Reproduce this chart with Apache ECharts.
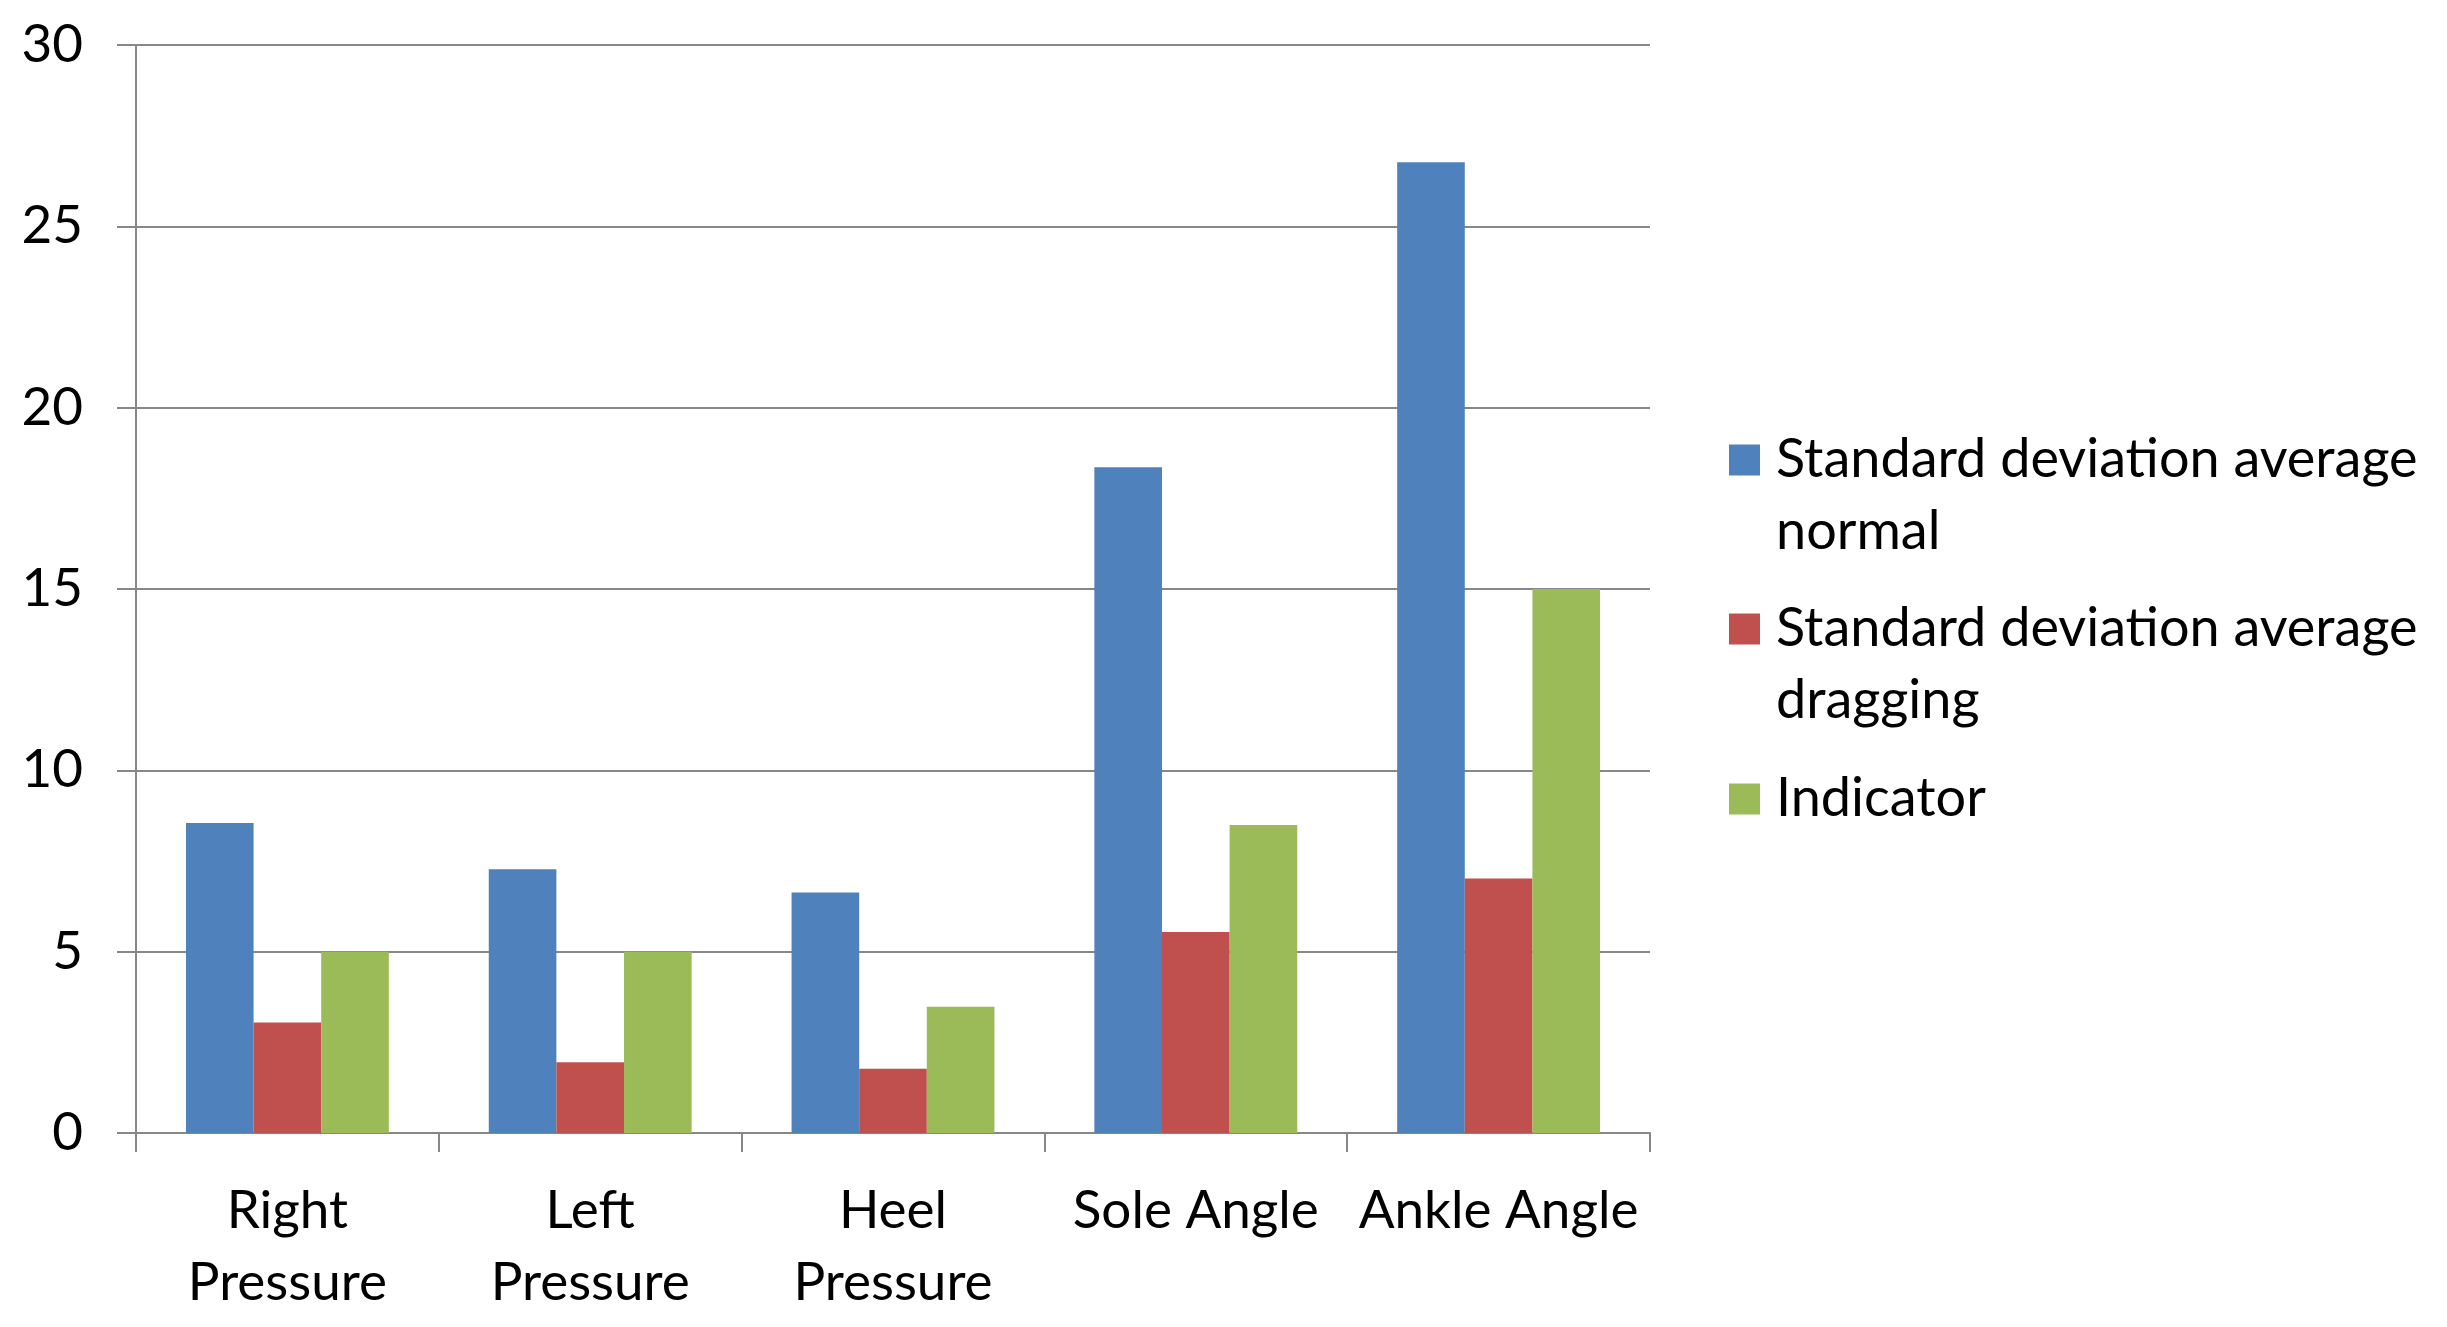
<!DOCTYPE html>
<html>
<head>
<meta charset="utf-8">
<script src="https://cdn.jsdelivr.net/npm/echarts@6/dist/echarts.min.js"></script>
<style>html,body{margin:0;padding:0;background:#fff}#c{width:2447px;height:1327px}</style>
</head>
<body>
<div id="c"></div>
<script>
const categories = ["Right Pressure", "Left Pressure", "Heel Pressure", "Sole Angle", "Ankle Angle"];
const seriesNames = ["Standard deviation average normal", "Standard deviation average dragging", "Indicator"];
const normalValues = [8.55, 7.27, 6.63, 18.36, 26.77];
const draggingValues = [3.05, 1.95, 1.77, 5.54, 7.02];
const indicatorValues = [5.0, 5.0, 3.48, 8.49, 15.0];
const yTicks = [0, 5, 10, 15, 20, 25, 30];

const colors = ['#4F81BD', '#C0504D', '#9BBB59'];
const FONT = 'Lato';
const FS = 53;
const LFS = 54;
const LH = 72;
const gray = '#878787';

const chart = echarts.init(document.getElementById('c'));
chart.setOption({
  animation: false,
  color: colors,
  textStyle: { fontFamily: FONT, color: '#000' },
  grid: { left: 136, top: 45, width: 1514, height: 1088, containLabel: false },
  legend: {
    orient: 'vertical',
    left: 1729,
    top: 352,
    padding: 0,
    itemGap: -47,
    itemWidth: 31,
    itemHeight: 31,
    icon: 'rect',
    selectedMode: false,
    formatter: name => name.indexOf(' average ') >= 0 ? '\n' + name.replace(' average ', ' average\n') : name,
    textStyle: { fontFamily: FONT, fontSize: LFS, lineHeight: LH, color: '#000' },
    data: [
      { name: seriesNames[0], textStyle: { padding: [0, 0, 0, 11] } },
      { name: seriesNames[1], textStyle: { padding: [0, 0, 0, 11] } },
      { name: seriesNames[2], textStyle: { padding: [73, 0, 73, 11] } }
    ]
  },
  xAxis: {
    type: 'category',
    data: categories,
    boundaryGap: true,
    axisLine: { show: true, lineStyle: { color: gray, width: 2 } },
    axisTick: { show: true, length: 19, inside: false, alignWithLabel: false, interval: 0, lineStyle: { color: gray, width: 2 } },
    axisLabel: {
      interval: 0,
      margin: 42,
      fontFamily: FONT,
      fontSize: FS,
      lineHeight: LH,
      color: '#000',
      formatter: v => v.replace(' Pressure', '\nPressure')
    },
    splitLine: { show: false }
  },
  yAxis: {
    type: 'value',
    min: yTicks[0],
    max: yTicks[yTicks.length - 1],
    interval: yTicks[1] - yTicks[0],
    axisLine: { show: true, lineStyle: { color: gray, width: 2 } },
    axisTick: { show: true, length: 19, inside: false, lineStyle: { color: gray, width: 2 } },
    axisLabel: { margin: 53, fontFamily: FONT, fontSize: FS, color: '#000' },
    splitLine: { show: true, lineStyle: { color: gray, width: 2 } }
  },
  series: [
    { name: seriesNames[0], type: 'bar', data: normalValues, barGap: '0%', barCategoryGap: '33%', itemStyle: { color: colors[0] } },
    { name: seriesNames[1], type: 'bar', data: draggingValues, barGap: '0%', barCategoryGap: '33%', itemStyle: { color: colors[1] } },
    { name: seriesNames[2], type: 'bar', data: indicatorValues, barGap: '0%', barCategoryGap: '33%', itemStyle: { color: colors[2] } }
  ]
});
</script>
</body>
</html>
